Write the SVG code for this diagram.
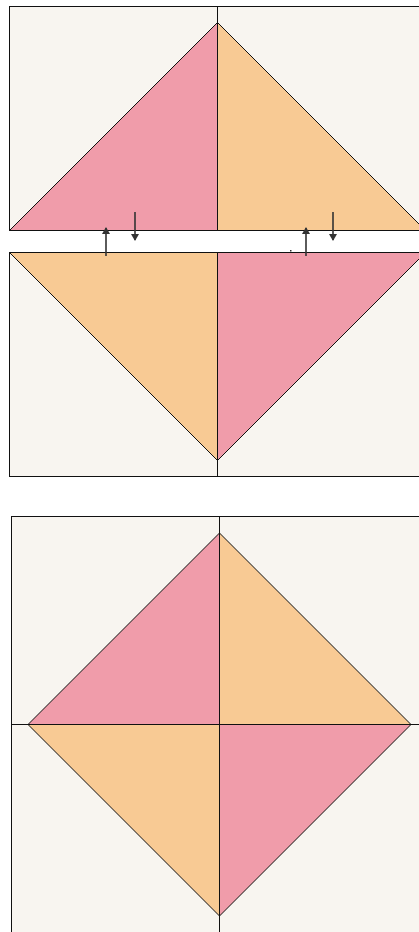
<svg xmlns="http://www.w3.org/2000/svg" width="419" height="932" viewBox="0 0 419 932">
<style>
.bg{fill:#f8f5f0;stroke:#111;stroke-width:1}
.pink{fill:#f09caa;stroke:#111;stroke-width:1}
.peach{fill:#f8ca94;stroke:#111;stroke-width:1}
.ln{stroke:#111;stroke-width:1;fill:none}
.arr{stroke:#333;stroke-width:1.6;fill:none;marker-end:url(#ah)}
</style>
<defs>
<marker id="ah" markerWidth="8" markerHeight="8" refX="6" refY="4" orient="auto" markerUnits="userSpaceOnUse">
<path d="M0,0 L7,4 L0,8 Z" fill="#333"/>
</marker>
</defs>
<rect width="419" height="932" fill="#ffffff"/>
<g id="panel-top">
<rect class="bg" x="9.5" y="6.5" width="430" height="224"/>
<polygon class="pink" points="217.5,22.5 9.5,230.5 217.5,230.5"/>
<polygon class="peach" points="217.5,22.5 425.5,230.5 217.5,230.5"/>
<line class="ln" x1="217.5" y1="6.5" x2="217.5" y2="230.5"/>
</g>
<g id="panel-middle">
<rect class="bg" x="9.5" y="252.5" width="430" height="224"/>
<polygon class="peach" points="9.5,252.5 217.5,252.5 217.5,460.5"/>
<polygon class="pink" points="217.5,252.5 425.5,252.5 217.5,460.5"/>
<line class="ln" x1="217.5" y1="252.5" x2="217.5" y2="476.5"/>
</g>
<g id="panel-bottom">
<rect class="bg" x="11.5" y="516.5" width="430" height="430"/>
<polygon class="pink" points="219.5,533 28,724.5 219.5,724.5"/>
<polygon class="peach" points="219.5,533 411,724.5 219.5,724.5"/>
<polygon class="peach" points="28,724.5 219.5,724.5 219.5,916"/>
<polygon class="pink" points="411,724.5 219.5,724.5 219.5,916"/>
<line class="ln" x1="219.5" y1="516.5" x2="219.5" y2="932"/>
<line class="ln" x1="11.5" y1="724.5" x2="419" y2="724.5"/>
</g>
<g id="connectors">
<line class="arr" x1="106" y1="256" x2="106" y2="228"/>
<line class="arr" x1="135" y1="212" x2="135" y2="240"/>
<line class="arr" x1="306" y1="256" x2="306" y2="228"/>
<line class="arr" x1="333" y1="212" x2="333" y2="240"/>
<rect x="290" y="250" width="1.5" height="1.5" fill="#333"/>
</g>
</svg>
